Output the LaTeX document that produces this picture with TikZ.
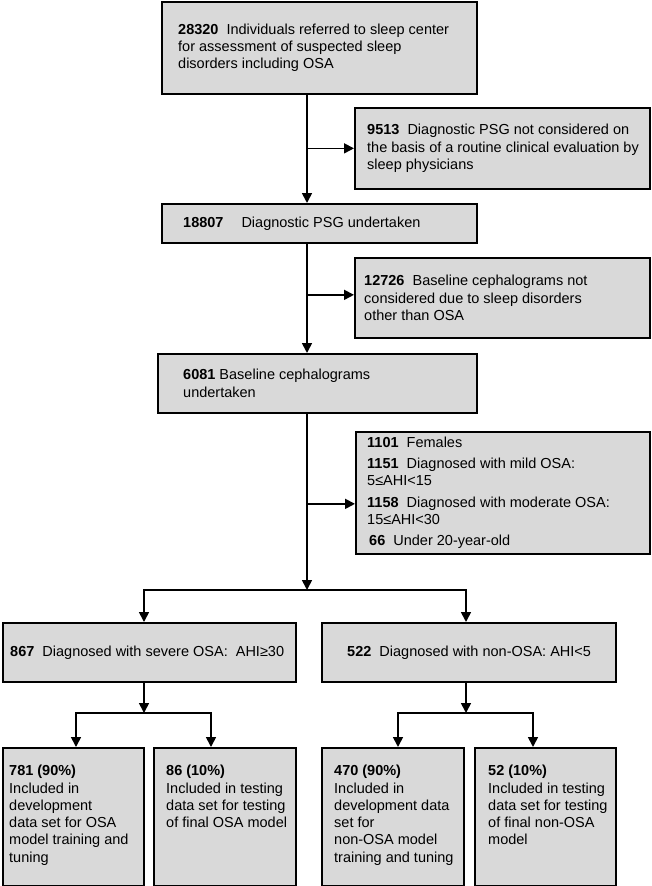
\documentclass[tikz,border=0pt]{standalone}
\usepackage{fontspec}
\setmainfont{Liberation Sans}
\usetikzlibrary{arrows.meta}

\definecolor{boxgray}{RGB}{217,217,217}

\tikzset{
  stage/.style={draw, fill=boxgray, line width=1.7pt, anchor=north west, inner sep=0pt},
  txt/.style={anchor=west, align=left, inner sep=0pt, font=\fontsize{14.5}{17.3}\selectfont},
  leaf/.style={txt, anchor=north west},
  arr/.style={line width=1.7pt, -{Triangle[length=10pt,width=10pt]}},
}

\begin{document}
\begin{tikzpicture}[x=1pt,y=-1pt]
  \useasboundingbox (0,0) rectangle (651,886);

  % boxes
  \node[stage, minimum width=315pt, minimum height=92pt]  (top)    at (161,1)   {};
  \node[stage, minimum width=295pt, minimum height=81pt]  (excl1)  at (354,107) {};
  \node[stage, minimum width=315pt, minimum height=39pt]  (psg)    at (161,203) {};
  \node[stage, minimum width=295pt, minimum height=80pt]  (excl2)  at (354,257) {};
  \node[stage, minimum width=319pt, minimum height=59pt]  (ceph)   at (157,353) {};
  \node[stage, minimum width=294pt, minimum height=122pt] (excl3)  at (355,431) {};
  \node[stage, minimum width=293pt, minimum height=59pt]  (severe) at (2,622)   {};
  \node[stage, minimum width=294pt, minimum height=59pt]  (nonosa) at (321,622) {};
  \node[stage, minimum width=141pt, minimum height=138pt] (dev1)   at (2,747)   {};
  \node[stage, minimum width=142pt, minimum height=138pt] (test1)  at (153,747) {};
  \node[stage, minimum width=142pt, minimum height=138pt] (dev2)   at (321,747) {};
  \node[stage, minimum width=141pt, minimum height=138pt] (test2)  at (474,747) {};

  % texts
  \node[txt] (topt) at ([xshift=17pt]top.west)
    {\textbf{28320}~~Individuals referred to sleep center\\for assessment of suspected sleep\\disorders including OSA};
  \node[txt] (excl1t) at ([xshift=13pt]excl1.west)
    {\textbf{9513}~~Diagnostic PSG not considered on\\the basis of a routine clinical evaluation by\\sleep physicians};
  \node[txt] (psgt) at ([xshift=22pt]psg.west)
    {\textbf{18807}\hspace{18pt}Diagnostic PSG undertaken};
  \node[txt] (excl2t) at ([xshift=10pt]excl2.west)
    {\textbf{12726}~~Baseline cephalograms not\\considered due to sleep disorders\\other than OSA};
  \node[txt] (cepht) at ([xshift=26pt]ceph.west)
    {\textbf{6081} Baseline cephalograms\\undertaken};
  \node[txt] (excl3t) at ([xshift=12pt]excl3.west)
    {\textbf{1101}~~Females\\[4pt]
     \textbf{1151}~~Diagnosed with mild OSA:\\5≤AHI<15\\[4pt]
     \textbf{1158}~~Diagnosed with moderate OSA:\\15≤AHI<30\\[4pt]
     \hspace*{2pt}\textbf{66}~~Under 20-year-old};
  \node[txt] (severet) at ([xshift=8pt]severe.west)
    {\textbf{867}~~Diagnosed with severe OSA:~~AHI≥30};
  \node[txt] (nonosat) at ([xshift=26pt]nonosa.west)
    {\textbf{522}~~Diagnosed with non-OSA: AHI<5};
  \node[leaf] (dev1t) at ([xshift=7pt,yshift=-18pt]dev1.north west)
    {\textbf{781 (90\%)}\\Included in\\development\\data set for OSA\\model training and\\tuning};
  \node[leaf] (test1t) at ([xshift=13pt,yshift=-18pt]test1.north west)
    {\textbf{86 (10\%)}\\Included in testing\\data set for testing\\of final OSA model};
  \node[leaf] (dev2t) at ([xshift=13pt,yshift=-18pt]dev2.north west)
    {\textbf{470 (90\%)}\\Included in\\development data\\set for\\non-OSA model\\training and tuning};
  \node[leaf] (test2t) at ([xshift=14pt,yshift=-18pt]test2.north west)
    {\textbf{52 (10\%)}\\Included in testing\\data set for testing\\of final non-OSA\\model};

  % columns and split points
  \coordinate (trunk)  at (307,0);
  \coordinate (split)  at (307,590);
  \coordinate (lcol)   at (144,0);
  \coordinate (rcol)   at (466,0);
  \coordinate (lsplit) at (144,713);
  \coordinate (rsplit) at (466,713);
  \coordinate (c1) at (76,0);
  \coordinate (c2) at (211,0);
  \coordinate (c3) at (398,0);
  \coordinate (c4) at (533,0);

  % connectors
  \draw[arr] (top.south -| trunk) -- (psg.north -| trunk);
  \draw[arr] (excl1.west -| trunk) -- (excl1.west);
  \draw[arr] (psg.south -| trunk) -- (ceph.north -| trunk);
  \draw[arr] ([yshift=3pt]excl2.west -| trunk) -- ([yshift=3pt]excl2.west);
  \draw[arr] (ceph.south -| trunk) -- (split);
  \draw[arr] ([yshift=-11pt]excl3.west -| trunk) -- ([yshift=-11pt]excl3.west);
  \draw[arr] (split) -| (severe.north -| lcol);
  \draw[arr] (split) -| (nonosa.north -| rcol);
  \draw[arr] (severe.south -| lcol) -- (lsplit);
  \draw[arr] (lsplit) -| (dev1.north -| c1);
  \draw[arr] (lsplit) -| (test1.north -| c2);
  \draw[arr] (nonosa.south -| rcol) -- (rsplit);
  \draw[arr] (rsplit) -| (dev2.north -| c3);
  \draw[arr] (rsplit) -| (test2.north -| c4);
\end{tikzpicture}
\end{document}
